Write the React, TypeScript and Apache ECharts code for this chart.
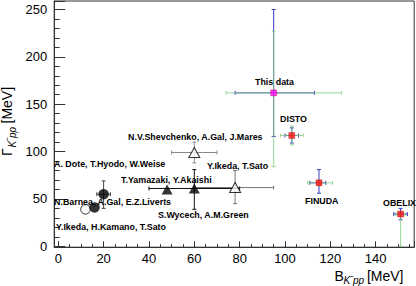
import React, { useEffect, useRef } from 'react';
import * as echarts from 'echarts';

// ---- Experimental results ----
const expNames = ['This data', 'DISTO', 'FINUDA', 'OBELIX'];
const expB = [95, 103, 115, 151];
const expGamma = [162, 117, 67, 34];
// error set drawn in blue (low / high)
const errBlueBLow = [17, 3, 4, 3];
const errBlueBHigh = [18, 3, 3, 3];
const errBlueGLow = [46, 8, 11, 6];
const errBlueGHigh = [88, 8, 14, 6];
// error set drawn in green (low / high)
const errGreenBLow = [21, 5, 5, 2];
const errGreenBHigh = [30, 5, 6, 2];
const errGreenGLow = [78, 10, 3, 34];
const errGreenGHigh = [65, 10, 2, 0];

// ---- Theoretical predictions ----
const thNames = [
  'N.V.Shevchenko, A.Gal, J.Mares',
  'Y.Ikeda, T.Sato',
  'T.Yamazaki, Y.Akaishi',
  'S.Wycech, A.M.Green',
  'A. Dote, T.Hyodo, W.Weise',
  'N.Barnea, A.Gal, E.Z.Liverts',
  'Y.Ikeda, H.Kamano, T.Sato',
];
const thB = [60, 78, 48, 60, 20, 16, 12];
const thGamma = [99, 62, 60, 61, 55, 41, 39];
const thBLow = [10, 18, 0, 20, 3, 0, 0];
const thBHigh = [10, 17, 0, 20, 3, 0, 0];
const thGLow = [11, 17, 0, 22, 15, 0, 0];
const thGHigh = [11, 18, 0, 20, 14, 0, 0];
const thMarker = ['openTriangle', 'openTriangle', 'triangle', 'triangle', 'circle', 'circle', 'openCircle'];

// ---- Axes ----
const xTickLabels = [0, 20, 40, 60, 80, 100, 120, 140];
const yTickLabels = [0, 50, 100, 150, 200, 250];

const FONT = '"Liberation Sans", Arial, Helvetica, sans-serif';

const mkErr = (
  bLo: number[], bHi: number[], gLo: number[], gHi: number[],
  colorFn: (i: number) => string, cap: number, opacity: number
) => (params: any, api: any) => {
  const i = params.dataIndex;
  const x = api.value(0);
  const y = api.value(1);
  const c = api.coord([x, y]);
  const st = { stroke: colorFn(i), lineWidth: 1, opacity };
  const ch: any[] = [];
  const seg = (x1: number, y1: number, x2: number, y2: number) =>
    ch.push({ type: 'line', shape: { x1, y1, x2, y2 }, style: st });
  if (bLo[i] > 0 || bHi[i] > 0) {
    const l = api.coord([x - bLo[i], y])[0];
    const r = api.coord([x + bHi[i], y])[0];
    seg(l, c[1], r, c[1]);
    if (bLo[i] > 0) seg(l, c[1] - cap, l, c[1] + cap);
    if (bHi[i] > 0) seg(r, c[1] - cap, r, c[1] + cap);
  }
  if (gLo[i] > 0 || gHi[i] > 0) {
    const t = api.coord([x, y + gHi[i]])[1];
    const b = api.coord([x, y - gLo[i]])[1];
    seg(c[0], t, c[0], b);
    if (gHi[i] > 0) seg(c[0] - cap, t, c[0] + cap, t);
    if (gLo[i] > 0) seg(c[0] - cap, b, c[0] + cap, b);
  }
  return { type: 'group', children: ch };
};

export default function App() {
  const ref = useRef<HTMLDivElement>(null);
  useEffect(() => {
    if (!ref.current) return;
    const chart = echarts.init(ref.current, undefined, { renderer: 'svg' });

    const expData = expB.map((b, i) => [b, expGamma[i]]);
    const thData = thB.map((b, i) => [thB[i], thGamma[i]]);
    const thErrColor = ['#8a8a8a', '#777777', '#111111', '#111111', '#444444', '#444444', '#444444'];

    const pick = (kinds: string[]) =>
      thData.map((d, i) => (kinds.includes(thMarker[i]) ? { value: d, kind: thMarker[i] } : null)).filter(Boolean);

    const labelStyle = (text: string, x: number, y: number) => ({
      type: 'text', x, y, z: 100,
      style: { text, fill: '#000', font: `bold 8.9px ${FONT}`, textAlign: 'left', textVerticalAlign: 'middle' },
    });

    const tick = { color: '#333', width: 1 };

    const option: any = {
      animation: false,
      grid: {
        left: 54.2, right: 1.8, top: 1, bottom: 38.8,
        show: true, borderColor: '#333', borderWidth: 1,
        containLabel: false, outerBoundsMode: 'none',
      },
      xAxis: {
        type: 'value', min: -1.8, max: 157, splitNumber: 8, minInterval: 20, maxInterval: 20,
        axisLine: { show: true, onZero: false, lineStyle: tick },
        axisTick: { show: true, inside: true, length: 6, lineStyle: tick },
        minorTick: { show: true, splitNumber: 4, length: 3, lineStyle: tick },
        splitLine: { show: false },
        axisLabel: {
          margin: 5, color: '#000', fontSize: 13, fontFamily: FONT,
          formatter: (v: number) => (xTickLabels.includes(Math.round(v * 1000) / 1000) ? String(Math.round(v)) : ''),
        },
      },
      yAxis: {
        type: 'value', min: -1, max: 259, splitNumber: 5, minInterval: 50, maxInterval: 50,
        axisLine: { show: true, onZero: false, lineStyle: tick },
        axisTick: { show: true, inside: true, length: 11, lineStyle: tick },
        minorTick: { show: true, splitNumber: 5, length: 5.5, lineStyle: tick },
        splitLine: { show: false },
        axisLabel: {
          margin: 7, color: '#000', fontSize: 13, fontFamily: FONT,
          formatter: (v: number) => (yTickLabels.includes(Math.round(v * 1000) / 1000) ? String(Math.round(v)) : ''),
        },
      },
      series: [
        {
          type: 'custom', name: 'exp-blue', data: expData, z: 2,
          encode: { x: 0, y: 1 },
          renderItem: mkErr(errBlueBLow, errBlueBHigh, errBlueGLow, errBlueGHigh, () => '#3c3cbc', 2, 1),
        },
        {
          type: 'custom', name: 'exp-green', data: expData, z: 3,
          encode: { x: 0, y: 1 },
          renderItem: mkErr(errGreenBLow, errGreenBHigh, errGreenGLow, errGreenGHigh, () => '#80cc80', 2, 0.8),
        },
        {
          type: 'custom', name: 'th-err', data: thData, z: 2,
          encode: { x: 0, y: 1 },
          renderItem: mkErr(thBLow, thBHigh, thGLow, thGHigh, (i) => thErrColor[i], 2, 1),
        },
        {
          type: 'scatter', name: 'exp', data: expData, z: 6,
          symbol: 'rect', symbolSize: 6,
          itemStyle: {
            color: (p: any) => (p.dataIndex === 0 ? '#ff00ff' : '#ff1010'),
            borderColor: '#a00000', borderWidth: 0.4,
          },
        },
        {
          type: 'scatter', name: 'th-open', data: pick(['openTriangle', 'openCircle']), z: 4,
          symbol: (v: any, p: any) => (p.data.kind === 'openCircle' ? 'circle' : 'triangle'),
          symbolSize: (v: any, p: any) => (p.data.kind === 'openCircle' ? 9.5 : [11, 10]),
          itemStyle: { color: '#fff', borderColor: '#000', borderWidth: 1 },
        },
        {
          type: 'scatter', name: 'th-filled', data: pick(['triangle', 'circle']), z: 5,
          symbol: (v: any, p: any) => (p.data.kind === 'circle' ? 'circle' : 'triangle'),
          symbolSize: (v: any, p: any) => (p.data.kind === 'circle' ? 10.5 : [11, 10]),
          itemStyle: { color: '#000' },
        },
      ],
      graphic: [
        labelStyle(expNames[0], 255, 82),
        labelStyle(expNames[1], 280, 119),
        labelStyle(expNames[2], 305, 201),
        labelStyle(expNames[3], 383, 203),
        labelStyle(thNames[0], 128, 137),
        labelStyle(thNames[1], 207, 166),
        labelStyle(thNames[2], 121, 179.5),
        labelStyle(thNames[3], 158, 215),
        labelStyle(thNames[4], 54, 164),
        labelStyle(thNames[5], 54, 202),
        labelStyle(thNames[6], 56, 227),
        // x-axis title  B_{K^- pp} [MeV]
        { type: 'text', x: 334.5, y: 275.5, style: { text: 'B', fill: '#000', font: `14px ${FONT}`, textAlign: 'left', textVerticalAlign: 'middle' } },
        { type: 'text', x: 343.5, y: 280.5, style: { text: 'K', fill: '#000', font: `italic 10px ${FONT}`, textAlign: 'left', textVerticalAlign: 'middle' } },
        { type: 'text', x: 349.6, y: 276, style: { text: '\u2212', fill: '#000', font: `8px ${FONT}`, textAlign: 'left', textVerticalAlign: 'middle' } },
        { type: 'text', x: 353, y: 280.5, style: { text: 'pp', fill: '#000', font: `italic 10px ${FONT}`, textAlign: 'left', textVerticalAlign: 'middle' } },
        { type: 'text', x: 403.5, y: 275.5, style: { text: '[MeV]', fill: '#000', font: `14px ${FONT}`, textAlign: 'right', textVerticalAlign: 'middle' } },
        // y-axis title  Γ_{K^- pp} [MeV]
        {
          type: 'group', x: 7, y: 156, rotation: Math.PI / 2,
          children: [
            { type: 'text', x: 0, y: 0, style: { text: 'Γ', fill: '#000', font: `14px ${FONT}`, textAlign: 'left', textVerticalAlign: 'middle' } },
            { type: 'text', x: 8.5, y: 5, style: { text: 'K', fill: '#000', font: `italic 10px ${FONT}`, textAlign: 'left', textVerticalAlign: 'middle' } },
            { type: 'text', x: 14.6, y: 0.5, style: { text: '\u2212', fill: '#000', font: `8px ${FONT}`, textAlign: 'left', textVerticalAlign: 'middle' } },
            { type: 'text', x: 18, y: 5, style: { text: 'pp', fill: '#000', font: `italic 10px ${FONT}`, textAlign: 'left', textVerticalAlign: 'middle' } },
            { type: 'text', x: 32.5, y: 0, style: { text: '[MeV]', fill: '#000', font: `14px ${FONT}`, textAlign: 'left', textVerticalAlign: 'middle' } },
          ],
        },
      ],
    };
    chart.setOption(option);
    return () => chart.dispose();
  }, []);
  return <div ref={ref} style={{ position: 'absolute', left: 0, top: 0, width: 416, height: 286 }} />;
}
